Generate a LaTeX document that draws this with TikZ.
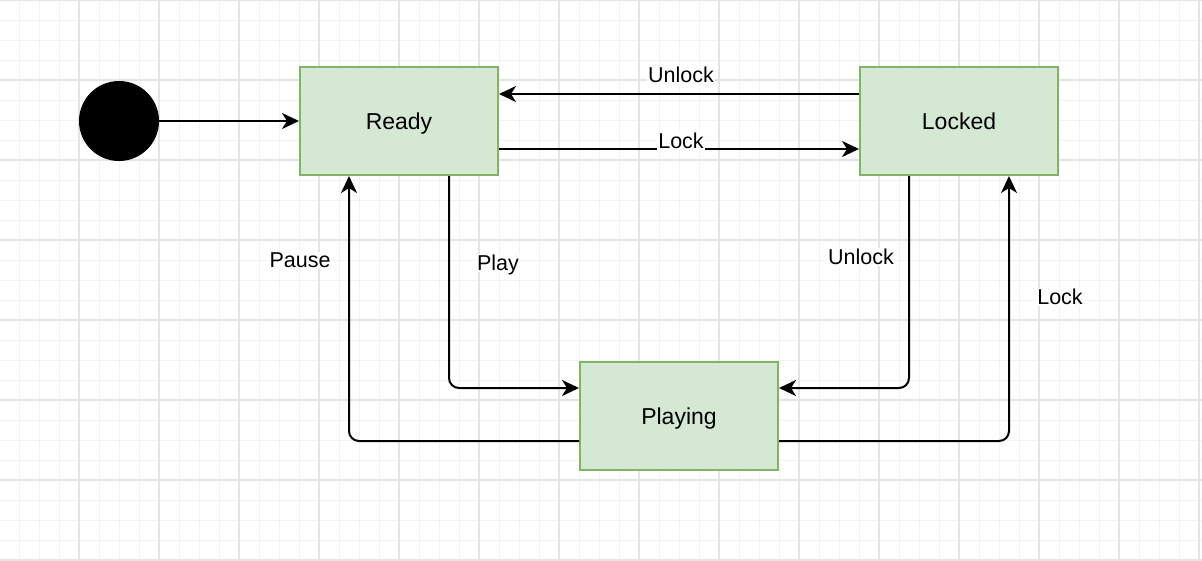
\documentclass[tikz,border=0pt]{standalone}
\usepackage{fontspec}
\setmainfont{Liberation Sans}
\usetikzlibrary{arrows.meta,calc}
\definecolor{boxfill}{HTML}{D5E8D4}
\definecolor{boxline}{HTML}{82B366}
\definecolor{gridminor}{HTML}{F3F3F3}
\definecolor{gridmajor}{HTML}{E4E4E4}
\tikzset{
  statebox/.style={draw=boxline, fill=boxfill, line width=2pt, minimum width=198pt, minimum height=108pt, inner sep=0pt, text depth=0pt, font=\fontsize{23}{28}\selectfont},
  initdot/.style={circle, fill=black, minimum size=80pt, inner sep=0pt},
  arr/.style={line width=2pt, -{Stealth[length=17pt,width=16pt,inset=5pt]}},
  lbl/.style={fill=white, inner sep=1pt, text depth=0pt, font=\fontsize{21.5}{26}\selectfont},
}
\begin{document}
\begin{tikzpicture}[x=1pt,y=-1pt]
\useasboundingbox (0,0) rectangle (1202,560);
\fill[white] (0,0) rectangle (1202,560);
\foreach \i in {0,...,60} {
  \draw[gridminor, line width=1pt] ({-1+20*\i},0) -- ({-1+20*\i},560);
}
\foreach \i in {0,...,28} {
  \draw[gridminor, line width=1pt] (0,{20*\i}) -- (1202,{20*\i});
}
\foreach \i in {0,...,15} {
  \draw[gridmajor, line width=1.5pt] ({-1+80*\i},0) -- ({-1+80*\i},560);
}
\foreach \i in {0,...,7} {
  \draw[gridmajor, line width=1.5pt] (0,{80*\i}) -- (1202,{80*\i});
}

\node[initdot] (init) at (119,121) {};
\node[statebox] (ready) at (399,121) {Ready};
\node[statebox] (locked) at (959,121) {Locked};
\node[statebox] (playing) at (679,416) {Playing};

\draw[arr] (init) -- (ready);
\draw[arr] ($(locked.west)+(0,-27)$) -- ($(ready.east)+(0,-27)$);
\draw[arr] ($(ready.east)+(0,28)$) -- ($(locked.west)+(0,28)$);
\draw[arr, rounded corners=10pt] ($(ready.south)+(50,0)$) |- ($(playing.west)+(0,-28)$);
\draw[arr, rounded corners=10pt] ($(playing.west)+(0,25)$) -| ($(ready.south)+(-50,0)$);
\draw[arr, rounded corners=10pt] ($(locked.south)+(-50,0)$) |- ($(playing.east)+(0,-28)$);
\draw[arr, rounded corners=10pt] ($(playing.east)+(0,25)$) -| ($(locked.south)+(50,0)$);

\node[lbl] (lunlock1) at (681,75) {Unlock};
\node[lbl] (llock1) at (681,141) {Lock};
\node[lbl] (lplay) at (498,263) {Play};
\node[lbl] (lpause) at (300,260) {Pause};
\node[lbl] (lunlock2) at (861,257) {Unlock};
\node[lbl] (llock2) at (1060,297) {Lock};
\end{tikzpicture}
\end{document}
